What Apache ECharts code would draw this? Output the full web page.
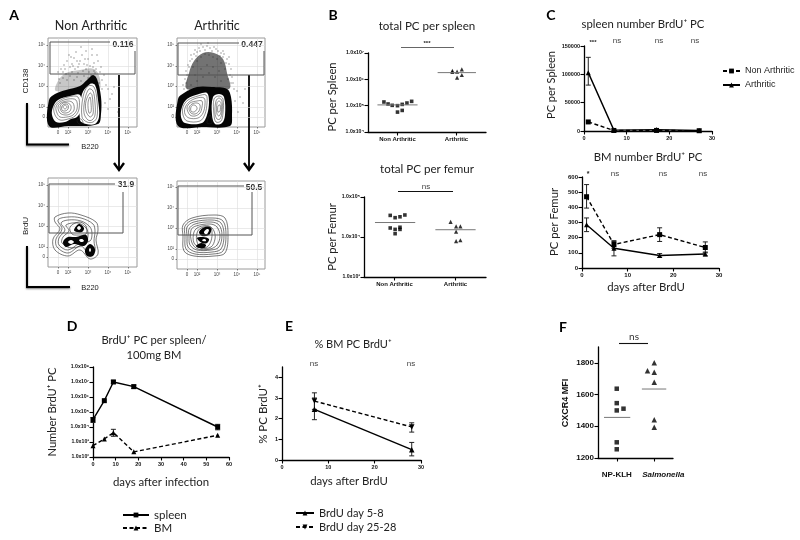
<!DOCTYPE html>
<html>
<head>
    <title>BrdU PC panels</title>
    <script src="https://cdn.jsdelivr.net/npm/echarts@6/dist/echarts.min.js"></script>
    <style>html,body{margin:0;background:#fff}</style>
</head>
<body>
    <div id="myChart" style="width:800px;height:540px;"></div>
    <script>
        // panel A: flow plots, everything in channel units
        const flowTickX = [10, 20, 40, 60, 80];
        const flowTickY = [10, 20, 41, 61, 82];
        const flowTickText = ['0', '10²', '10³', '10⁴', '10⁵'];

        const tlBlack = [[1,1, 1,27, 7,33, 18,37, 32,41, 39,47, 45,52, 49,48, 53,30, 53,13, 50,3, 20,1]];
        const tlHaze = [[8,36, 10,46, 18,54, 32,57, 46,58, 52,48, 50,36]];
        const tlWhite = [[5,20, 10,27, 22,31, 32,32, 33,17, 29,10, 23,8, 17,5, 8,5, 4,12],
                         [34,33, 42,43, 47,42, 50,27, 51,10, 47,3, 38,3, 32,7]];
        const tlRings = [[6,20, 11,26, 20,30, 30,30, 31,18, 27,11, 20,8, 12,7, 7,12],
                         [8,20, 12,25, 20,28, 28,27, 29,18, 25,12, 19,10, 12,10, 9,14],
                         [10,20, 13,24, 20,26, 25,24, 26,17, 22,13, 17,12, 12,14],
                         [12,20, 15,24, 20,24, 23,21, 22,16, 18,14, 14,15],
                         [14,21, 17,23, 20,22, 20,18, 17,16, 14,17],
                         [15,20, 17,22, 19,20, 17,18],
                         [35,30, 40,41, 46,40, 49,26, 49,10, 45,5, 39,5, 34,10],
                         [37,28, 41,38, 45,36, 47,24, 47,12, 44,7, 40,7, 36,14],
                         [38,26, 42,34, 44,32, 45,22, 45,13, 42,10, 38,16],
                         [40,24, 42,30, 43,24, 43,15, 41,14],
                         [33,8, 35,4, 31,3, 29,7]];
        const tlDots = [[10,55],[13,58],[16,62],[19,66],[21,72],[24,63],[26,69],[28,75],[30,60],[32,66],[34,72],[36,63],[38,58],[40,68],
            [42,61],[44,72],[46,64],[48,58],[50,66],[44,78],[38,76],[33,80],[22,60],[27,58],[35,56],[41,55],[47,54],[15,55],[11,48],[52,55],
            [18,53],[24,55],[30,54],[53,60],[49,72],[29,66],[23,70],[37,68],[60,38],[64,33],[62,28],[58,42],[66,40],[57,24],[60,18],[56,52],[54,47],[70,15],
            [12,44],[15,49],[19,47],[22,51],[26,47],[29,50],[33,46],[36,51],[40,49],[43,52],[46,56],[51,44],[54,38],[17,58],[25,61],[31,63],[39,62],[45,60]];
        const tlGate = [[87,76],[87,53],[2,53],[2,85],[62,85]];

        const trBlack = [[1,1, 1,28, 7,34, 20,40, 35,40, 50,38, 54,30, 55,12, 53,1, 25,0]];
        const trHaze = [[10,38, 12,54, 17,66, 26,74, 37,74, 46,68, 50,54, 52,38]];
        const trWhite = [[5,20, 10,28, 22,33, 30,34, 32,25, 30,12, 25,4, 8,4, 4,10],
                         [36,30, 42,33, 47,30, 48,12, 45,4, 38,3, 35,12]];
        const trRings = [[6,20, 11,27, 21,31, 29,32, 30,24, 28,13, 23,6, 10,6, 6,12],
                         [8,19, 12,25, 20,29, 27,29, 28,23, 26,14, 21,9, 12,9, 8,13],
                         [10,19, 13,24, 20,26, 25,26, 25,20, 23,14, 18,11, 13,12],
                         [12,19, 15,23, 20,24, 23,22, 22,16, 18,13, 14,14],
                         [14,20, 16,22, 19,21, 20,18, 17,15, 14,16],
                         [37,28, 42,31, 46,28, 46,14, 44,6, 39,5, 37,12],
                         [39,26, 42,29, 45,26, 45,15, 43,8, 40,8, 38,14],
                         [40,24, 42,26, 44,24, 44,15, 42,11, 40,13],
                         [41,21, 43,22, 43,16, 41,15],
                         [30,4, 33,12, 35,4]];
        const trDots = [[6,42],[8,48],[9,56],[11,62],[13,66],[14,72],[17,73],[20,75],[22,79],[26,80],[30,81],[33,79],[37,80],[41,76],[44,74],
            [47,73],[50,68],[52,63],[54,58],[55,50],[56,44],[57,38],[12,52],[16,60],[20,66],[24,70],[28,73],[32,72],[36,70],[40,68],
            [44,64],[48,58],[51,48],[14,42],[20,46],[26,50],[32,54],[38,50],[44,46],[24,58],[30,62],[36,60],[42,56],[18,52],[60,36],[63,30],[66,24],[61,15],[68,38],[58,26],
            [7,38],[9,44],[10,52],[15,68],[19,71],[23,76],[28,77],[35,76],[39,78],[43,71],[46,70],[49,64],[53,52],[54,44],[12,60],[18,77],[24,83],[31,84],[46,76],[52,70]];
        const trGate = [[87,76],[87,52],[1,52],[1,84],[62,84]];

        const blBlack = [[15,25, 20,30, 28,30, 38,32, 40,26, 36,21, 26,23, 18,20],
                         [37,17, 42,23, 47,18, 45,11, 39,11],
                         [26,37, 31,43, 36,39, 34,35, 29,35]];
        const blWhite = [[20,25, 23,27, 26,25, 23,23],
                         [31,27, 34,28, 36,26, 33,25],
                         [41,17, 42,19, 43,17, 42,15],
                         [29,39, 31,41, 33,39, 31,37]];
        const blRings = [[7,50, 20,54, 33,52, 48,45, 50,37, 48,27, 50,13, 42,8, 32,17, 20,11, 7,17, 5,28, 12,38, 7,45],
                         [10,47, 20,50, 33,49, 45,43, 47,36, 46,26, 47,16, 42,11, 33,21, 20,14, 9,20, 8,28, 14,38],
                         [13,44, 20,47, 33,46, 42,40, 44,33, 42,26, 32,24, 20,17, 11,22, 11,29, 17,37],
                         [18,42, 30,44, 38,39, 40,32, 37,24, 24,19, 14,24, 15,30, 21,36],
                         [22,40, 31,45, 38,41, 38,33, 30,32, 24,33]];
        const blGate = [[75,75],[75,34],[1,34],[1,83],[67,83]];

        const brBlack = [[22,37, 28,42, 34,41, 33,35, 29,33, 25,33],
                         [20,31, 26,32, 32,30, 30,26, 25,26],
                         [19,23, 24,26, 29,24, 27,21, 22,21]];
        const brWhite = [[27,37, 30,40, 32,39, 30,35, 28,35],
                         [25,29, 28,30, 29,28, 26,28]];
        const brRings = [[6,44, 15,51, 37,54, 48,51, 51,34, 48,16, 37,13, 17,13, 7,18, 6,33],
                         [8,43, 16,49, 36,51, 46,48, 49,34, 46,18, 36,15, 18,15, 9,20, 8,33],
                         [10,42, 17,47, 35,49, 44,46, 47,34, 44,20, 35,17, 19,17, 11,22, 10,33],
                         [12,40, 18,45, 34,47, 42,44, 45,34, 42,22, 34,19, 20,19, 13,24, 12,33],
                         [14,39, 19,43, 33,45, 40,42, 43,33, 40,24, 33,20, 21,20, 15,26],
                         [17,37, 22,42, 32,43, 37,38, 38,30, 34,22, 24,21, 17,26],
                         [20,36, 24,41, 33,42, 35,37, 34,28, 30,22, 24,22, 20,27]];
        const brGate = [[75,77],[75,34],[1,34],[1,83],[67,83]];

        // panel B
        const spleenNonX = [0.27, 0.34, 0.41, 0.5, 0.58, 0.66, 0.74, 0.5, 0.58];
        const spleenNonY = [138000, 116000, 103000, 100000, 112000, 126000, 146000, 57000, 66000];
        const spleenArthX = [1.43, 1.43, 1.51, 1.51, 1.59, 1.59];
        const spleenArthY = [1900000, 2100000, 1950000, 1160000, 2400000, 1460000];
        const spleenMeanNon = [[0.16, 107000], [0.84, 107000]];
        const spleenMeanArth = [[1.18, 1800000], [1.83, 1800000]];
        const femurNonX = [0.43, 0.51, 0.59, 0.67, 0.43, 0.51, 0.59, 0.59, 0.51];
        const femurNonY = [34700, 30400, 32000, 35500, 16800, 15500, 17500, 15500, 12100];
        const femurArthX = [1.42, 1.51, 1.58, 1.51, 1.51, 1.58];
        const femurArthY = [24000, 18500, 18500, 13600, 7900, 8300];
        const femurMeanNon = [[0.18, 23000], [0.84, 23000]];
        const femurMeanArth = [[1.17, 15200], [1.83, 15200]];
        const groupNames = ['Non Arthritic', 'Arthritic'];

        // panel C
        const dayC = [1, 7, 17, 27];
        const cSpleenNon = [16000, 1000, 1000, 500];
        const cSpleenArth = [103000, 1500, 2500, 1000];
        const cSpleenArthErr = [[1, 81000, 130000]];
        const cFemurNon = [470, 155, 220, 135];
        const cFemurNonErr = [[1, 395, 550], [7, 130, 180], [17, 175, 265], [27, 100, 172]];
        const cFemurArth = [285, 130, 82, 92];
        const cFemurArthErr = [[1, 240, 330], [7, 80, 175], [17, 70, 95], [27, 80, 105]];

        // panel D
        const dayD = [0, 5, 9, 18, 55];
        const dSpleen = [31000, 570000, 10000000, 4900000, 10000];
        const dSpleenErr = [[0, 20000, 42000], [9, 8000000, 13000000], [18, 3700000, 6300000], [55, 6500, 15000]];
        const dBm = [570, 1600, 4200, 220, 2800];
        const dBmErr = [[9, 2400, 7000]];

        // panel E
        const dayE = [7, 28];
        const eEarly = [2.45, 0.5];
        const eEarlyErr = [[7, 1.95, 3.0], [28, 0.2, 0.85]];
        const eLate = [2.85, 1.6];
        const eLateErr = [[7, 2.45, 3.25], [28, 1.35, 1.8]];

        // panel F
        const klhX = [0.5, 0.5, 0.5, 0.68, 0.5, 0.5];
        const klhY = [1637, 1546, 1500, 1511, 1299, 1255];
        const salX = [1.5, 1.32, 1.5, 1.5, 1.5, 1.5];
        const salY = [1800, 1751, 1741, 1677, 1441, 1394];
        const klhMean = [[0.16, 1456], [0.86, 1456]];
        const salMean = [[1.17, 1635], [1.82, 1635]];

        const zip = (a, b) => a.map((v, i) => [v, b[i]]);
        const sup = {2: '²', 3: '³', 4: '⁴', 5: '⁵', 6: '⁶', 7: '⁷', 8: '⁸'};
        const arial = '"Liberation Sans", Arial, sans-serif';
        const lato = 'Lato, "Noto Sans", sans-serif';

        const grid = [], xAxis = [], yAxis = [], series = [], graphic = [];

        function sciLabel(v) {
            return '1.0x10' + sup[Math.round(Math.log10(v))];
        }

        function addGrid(left, top, width, height, xa, ya, show) {
            grid.push({left, top, width, height, show: !!show, borderColor: '#9a9a9a', borderWidth: 1});
            xa.gridIndex = ya.gridIndex = grid.length - 1;
            xAxis.push(xa);
            yAxis.push(ya);
            return grid.length - 1;
        }

        function plainAxis(opts, size) {
            return Object.assign({
                type: 'value',
                splitLine: {show: false},
                axisLine: {show: true, onZero: false, lineStyle: {color: '#000', width: 1.3}},
                axisTick: {length: 3.5, lineStyle: {color: '#000', width: 1.1}},
                axisLabel: {fontFamily: arial, fontWeight: 'bold', fontSize: size, color: '#111', margin: 4, formatter: v => String(v)}
            }, opts);
        }

        function logAxis(min, max, size) {
            const a = plainAxis({type: 'log', logBase: 10, min, max, splitNumber: 8}, size);
            a.axisLabel.formatter = sciLabel;
            return a;
        }

        function catAxis(ticks, labels, size) {
            const a = plainAxis({min: 0, max: 2}, size);
            a.axisTick.customValues = ticks;
            a.axisLabel.customValues = labels;
            return a;
        }

        function flowAxis(max, ticks) {
            return {
                type: 'value', min: 0, max,
                axisLine: {show: false},
                axisTick: {length: 1.5, customValues: ticks, lineStyle: {color: '#333', width: 0.6}},
                splitLine: {show: true, lineStyle: {color: '#dcdcdc', width: 0.6}},
                axisLabel: {
                    customValues: ticks, fontSize: 4.5, margin: 3, color: '#444', fontFamily: arial,
                    formatter: v => flowTickText[ticks.indexOf(v)]
                }
            };
        }

        // polygons for the density and contours, drawn through the axis scale
        function shapes(g, list, fill, stroke, lw, opacity) {
            series.push({
                type: 'custom', xAxisIndex: g, yAxisIndex: g, silent: true, clip: false,
                data: list.map((p, i) => [i]), encode: {x: -1, y: -1},
                renderItem: function (params, api) {
                    const flat = list[params.dataIndex], points = [];
                    for (let i = 0; i < flat.length; i += 2) points.push(api.coord([flat[i], flat[i + 1]]));
                    return {
                        type: 'polygon', shape: {points, smooth: 0.35},
                        style: {fill, stroke, lineWidth: lw, opacity}
                    };
                }
            });
        }

        function flowPlot(left, top, w, h, d) {
            const g = addGrid(left, top, w, h, flowAxis(w, flowTickX), flowAxis(h, flowTickY), true);
            if (d.haze) shapes(g, d.haze, '#000', 'none', 0, d.hazeOpacity);
            if (d.dots) series.push({type: 'scatter', xAxisIndex: g, yAxisIndex: g, data: d.dots, symbol: 'rect', symbolSize: 1, itemStyle: {color: '#222'}, silent: true});
            shapes(g, d.rings, 'none', '#222', d.lw, 1);
            if (d.black) shapes(g, d.black, '#050505', 'none', 0, 1);
            if (d.white) shapes(g, d.white, '#fff', 'none', 0, 1);
            if (d.inner) shapes(g, d.inner, 'none', '#222', d.lw, 1);
            series.push({type: 'line', xAxisIndex: g, yAxisIndex: g, data: d.gate, symbol: 'none', silent: true, lineStyle: {color: '#555', width: 1}});
        }

        function marks(g, name, data, symbol, size, rotate) {
            series.push({type: 'scatter', name, xAxisIndex: g, yAxisIndex: g, data, symbol, symbolSize: size, symbolRotate: rotate || 0, itemStyle: {color: '#000'}});
        }
        function meanLine(g, data) {
            series.push({type: 'line', xAxisIndex: g, yAxisIndex: g, data, symbol: 'none', lineStyle: {color: '#777', width: 1}});
        }
        function trace(g, name, xs, ys, symbol, dashed, size, rotate) {
            series.push({
                type: 'line', name, xAxisIndex: g, yAxisIndex: g, data: zip(xs, ys), symbol, symbolSize: size || 5,
                symbolRotate: rotate || 0, showSymbol: true,
                itemStyle: {color: '#000'},
                lineStyle: {color: '#000', width: 1.4, type: dashed ? [4, 2.5] : 'solid'}
            });
        }
        function errorBars(g, data, cap) {
            series.push({
                type: 'custom', xAxisIndex: g, yAxisIndex: g, data, silent: true, clip: false,
                encode: {x: 0, y: [1, 2]},
                renderItem: function (params, api) {
                    const lo = api.coord([api.value(0), api.value(1)]);
                    const hi = api.coord([api.value(0), api.value(2)]);
                    const style = {stroke: '#222', lineWidth: 1, fill: 'none'};
                    return {type: 'group', children: [
                        {type: 'line', shape: {x1: lo[0], y1: lo[1], x2: hi[0], y2: hi[1]}, style},
                        {type: 'line', shape: {x1: lo[0] - cap, y1: lo[1], x2: lo[0] + cap, y2: lo[1]}, style},
                        {type: 'line', shape: {x1: hi[0] - cap, y1: hi[1], x2: hi[0] + cap, y2: hi[1]}, style}
                    ]};
                }
            });
        }

        function txt(x, y, text, size, opts) {
            opts = opts || {};
            graphic.push({
                type: 'text', x, y, rotation: opts.vertical ? Math.PI / 2 : 0, silent: true,
                style: {
                    text, fontSize: size, fontFamily: opts.font || lato, fontWeight: opts.weight || 'normal',
                    fill: opts.color || '#222', align: opts.align || 'center', verticalAlign: 'middle'
                }
            });
        }
        function rule(points, width, color, shadow) {
            graphic.push({
                type: 'polyline', silent: true, shape: {points},
                style: {stroke: color || '#000', lineWidth: width, fill: 'none', shadowBlur: shadow || 0, shadowColor: '#777', shadowOffsetY: shadow ? 1 : 0}
            });
        }
        function downArrow(x, y1, y2) {
            rule([[x, y1], [x, y2 - 2]], 1.8);
            graphic.push({type: 'polyline', silent: true, shape: {points: [[x - 5, y2 - 7], [x, y2], [x + 5, y2 - 7]]}, style: {stroke: '#000', lineWidth: 2.4, fill: 'none'}});
        }

        // panel A
        flowPlot(48, 38, 89, 89, {haze: tlHaze, hazeOpacity: 0.22, dots: tlDots, black: tlBlack, white: tlWhite, inner: tlRings, rings: [], gate: tlGate, lw: 0.5});
        flowPlot(177, 38, 88, 89, {haze: trHaze, hazeOpacity: 0.55, dots: trDots, black: trBlack, white: trWhite, inner: trRings, rings: [], gate: trGate, lw: 0.5});
        flowPlot(48, 178, 89, 89, {rings: blRings, black: blBlack, white: blWhite, gate: blGate, lw: 0.6});
        flowPlot(177, 181, 88, 88, {rings: brRings, black: brBlack, white: brWhite, gate: brGate, lw: 0.6});
        txt(14, 15, 'A', 14, {weight: 'bold', color: '#000'});
        txt(91, 26, 'Non Arthritic', 12.5);
        txt(217, 26, 'Arthritic', 12.5);
        txt(123, 45, '0.116', 8.5, {font: arial, weight: 'bold', color: '#333'});
        txt(252, 45, '0.447', 8.5, {font: arial, weight: 'bold', color: '#333'});
        txt(126, 185, '31.9', 8.5, {font: arial, weight: 'bold', color: '#333'});
        txt(254, 188, '50.5', 8.5, {font: arial, weight: 'bold', color: '#333'});
        txt(26, 81, 'CD138', 8, {font: arial, vertical: true});
        txt(90, 147, 'B220', 7.5, {font: arial});
        txt(26, 226, 'BrdU', 8, {font: arial, vertical: true});
        txt(90, 287.5, 'B220', 7.5, {font: arial});
        rule([[27, 103], [27, 144.5], [69, 144.5]], 2, '#000', 2);
        rule([[27, 246], [27, 287], [70, 287]], 2, '#000', 2);
        downArrow(119, 75, 170);
        downArrow(249, 75, 170);

        // panel B
        let g = addGrid(368, 53, 118, 79, catAxis([0.5, 1.5], [0.5, 1.5], 6), logAxis(10000, 10000000, 5.2));
        xAxis[g].axisLabel.formatter = v => groupNames[Math.floor(v)];
        marks(g, 'spleen non', zip(spleenNonX, spleenNonY), 'rect', 3.6);
        marks(g, 'spleen arth', zip(spleenArthX, spleenArthY), 'triangle', 4.2);
        meanLine(g, spleenMeanNon);
        meanLine(g, spleenMeanArth);

        g = addGrid(364, 197, 122, 80, catAxis([0.5, 1.5], [0.5, 1.5], 6), logAxis(1000, 100000, 5.2));
        xAxis[g].axisLabel.formatter = v => groupNames[Math.floor(v)];
        marks(g, 'femur non', zip(femurNonX, femurNonY), 'rect', 3.6);
        marks(g, 'femur arth', zip(femurArthX, femurArthY), 'triangle', 4.2);
        meanLine(g, femurMeanNon);
        meanLine(g, femurMeanArth);

        txt(333, 15, 'B', 14, {weight: 'bold', color: '#000'});
        txt(427, 26, 'total PC per spleen', 11.6);
        txt(332, 97, 'PC per Spleen', 11.2, {vertical: true});
        rule([[401, 47.5], [454, 47.5]], 1.2, '#666');
        txt(427, 43, '***', 6, {font: arial, weight: 'bold'});
        txt(427, 169, 'total PC per femur', 11.6);
        txt(332, 237, 'PC per Femur', 11.2, {vertical: true});
        rule([[398, 191.5], [453, 191.5]], 1.1, '#111');
        txt(426, 187, 'ns', 8, {font: arial, color: '#444'});

        // panel C
        const cTop = addGrid(584, 46, 128, 85,
            plainAxis({min: 0, max: 30, interval: 10}, 5.5),
            plainAxis({min: 0, max: 150000, interval: 50000}, 5.5));
        trace(cTop, 'Non Arthritic', dayC, cSpleenNon, 'rect', true, 5);
        trace(cTop, 'Arthritic', dayC, cSpleenArth, 'triangle', false, 5);
        errorBars(cTop, cSpleenArthErr, 2.5);

        const cBot = addGrid(582, 177, 137, 91,
            plainAxis({min: 0, max: 30, interval: 10}, 6),
            plainAxis({min: 0, max: 600, interval: 100}, 6));
        trace(cBot, 'Non Arthritic', dayC, cFemurNon, 'rect', true, 5);
        trace(cBot, 'Arthritic', dayC, cFemurArth, 'triangle', false, 5);
        errorBars(cBot, cFemurNonErr, 2.5);
        errorBars(cBot, cFemurArthErr, 2.5);

        txt(551, 15, 'C', 14, {weight: 'bold', color: '#000'});
        txt(643, 24, 'spleen number BrdU⁺ PC', 11.3);
        txt(551, 85, 'PC per Spleen', 11, {vertical: true});
        txt(593, 42, '***', 6, {font: arial, weight: 'bold'});
        [617, 659, 695].forEach(x => txt(x, 41, 'ns', 8, {font: arial, color: '#444'}));
        txt(648, 157, 'BM number BrdU⁺ PC', 11.3);
        txt(554, 222, 'PC per Femur', 11.3, {vertical: true});
        txt(646, 287, 'days after BrdU', 11.4);
        txt(588, 174, '*', 7, {font: arial, weight: 'bold'});
        [615, 663, 703].forEach(x => txt(x, 174, 'ns', 8, {font: arial, color: '#444'}));

        // panel D
        const dGrid = addGrid(93, 367, 136, 90,
            plainAxis({min: 0, max: 60, interval: 10}, 5.5),
            logAxis(100, 100000000, 5.2));
        trace(dGrid, 'spleen', dayD, dSpleen, 'rect', false, 5);
        trace(dGrid, 'BM', dayD, dBm, 'triangle', true, 5);
        errorBars(dGrid, dSpleenErr, 2.5);
        errorBars(dGrid, dBmErr, 2.5);
        txt(72, 326, 'D', 14, {weight: 'bold', color: '#000'});
        txt(154, 340, 'BrdU⁺ PC per spleen/', 11.2);
        txt(154, 355, '100mg BM', 11.2);
        txt(52, 412, 'Number BrdU⁺ PC', 11.2, {vertical: true});
        txt(161, 482, 'days after infection', 11.4);

        // panel E
        const eGrid = addGrid(282, 367, 139, 93,
            plainAxis({min: 0, max: 30, interval: 10}, 5.5),
            plainAxis({min: 0, max: 4.5, axisTick: {customValues: [0, 1, 2, 3, 4], length: 3.5, lineStyle: {color: '#000', width: 1.1}}}, 5.5));
        yAxis[eGrid].axisLabel.customValues = [0, 1, 2, 3, 4];
        trace(eGrid, 'BrdU day 5-8', dayE, eEarly, 'triangle', false, 5.5);
        trace(eGrid, 'BrdU day 25-28', dayE, eLate, 'triangle', true, 5.5, 180);
        errorBars(eGrid, eEarlyErr, 2.5);
        errorBars(eGrid, eLateErr, 2.5);
        txt(289, 326, 'E', 14, {weight: 'bold', color: '#000'});
        txt(353, 344, '% BM PC BrdU⁺', 11);
        txt(263, 414, '% PC BrdU⁺', 11.5, {vertical: true});
        txt(349, 481, 'days after BrdU', 11.4);
        txt(314, 364, 'ns', 8, {font: arial, color: '#444'});
        txt(411, 364, 'ns', 8, {font: arial, color: '#444'});

        // panel F
        const fGrid = addGrid(598, 347, 75, 111,
            catAxis([0.5, 1.5], [0.5, 1.74], 8),
            plainAxis({min: 1200, max: 1900, axisTick: {customValues: [1200, 1400, 1600, 1800], length: 3.5, lineStyle: {color: '#000', width: 1.1}}}, 8));
        xAxis[fGrid].axisLabel.formatter = v => v < 1 ? 'NP-KLH' : '{i|Salmonella}';
        xAxis[fGrid].axisLabel.rich = {i: {fontFamily: arial, fontWeight: 'bold', fontStyle: 'italic', fontSize: 8, color: '#111'}};
        xAxis[fGrid].axisLabel.margin = 13;
        yAxis[fGrid].axisLabel.customValues = [1200, 1400, 1600, 1800];
        marks(fGrid, 'NP-KLH', zip(klhX, klhY), 'rect', 4.5);
        marks(fGrid, 'Salmonella', zip(salX, salY), 'triangle', 5.5);
        meanLine(fGrid, klhMean);
        meanLine(fGrid, salMean);
        txt(563, 327, 'F', 14, {weight: 'bold', color: '#000'});
        txt(566, 403, 'CXCR4 MFI', 9, {font: arial, weight: 'bold', vertical: true, color: '#111'});
        rule([[619, 343.5], [648, 343.5]], 1.1, '#111');
        txt(634, 337, 'ns', 10, {color: '#333'});

        const legendBase = {orient: 'vertical', selectedMode: false, itemWidth: 26, itemHeight: 6, padding: 0};
        const legend = [
            Object.assign({}, legendBase, {left: 722, top: 66, itemGap: 4, itemWidth: 17, data: groupNames, textStyle: {fontFamily: arial, fontSize: 9, lineHeight: 10, color: '#222'}}),
            Object.assign({}, legendBase, {left: 122, top: 509, itemGap: 1, data: ['spleen', 'BM'], textStyle: {fontFamily: lato, fontSize: 11.5, lineHeight: 12, color: '#222'}}),
            Object.assign({}, legendBase, {left: 295, top: 507, itemGap: 2, itemWidth: 18, data: ['BrdU day 5-8', 'BrdU day 25-28'], textStyle: {fontFamily: lato, fontSize: 11, lineHeight: 12, color: '#222'}})
        ];

        const myChart = echarts.init(document.getElementById('myChart'), null, {renderer: 'canvas'});
        myChart.setOption({
            animation: false,
            backgroundColor: '#fff',
            grid, xAxis, yAxis, series, legend, graphic
        });
    </script>
</body>
</html>
